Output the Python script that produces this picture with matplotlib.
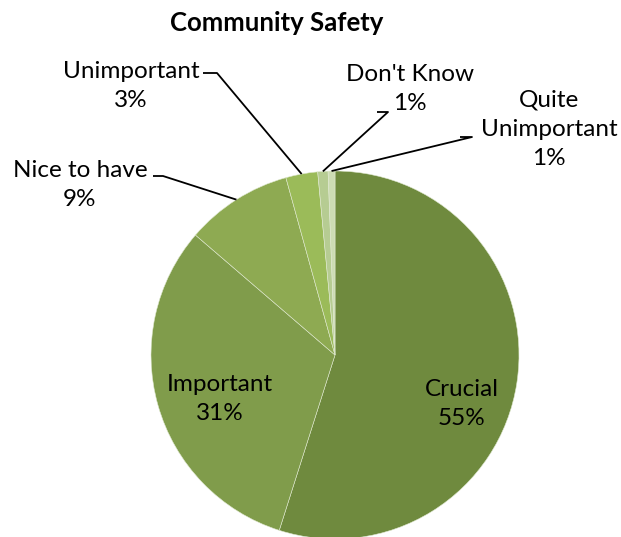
import numpy as np
import matplotlib
matplotlib.use("Agg")
import matplotlib.pyplot as plt

plt.rcParams['font.family'] = ['Lato', 'DejaVu Sans']

# survey shares, in percent
categories = ["Crucial", "Important", "Nice to have", "Unimportant", "Don't Know", "Quite\nUnimportant"]
shares = [54.9, 31.4, 9.4, 2.8, 0.9, 0.6]
colours = ["#6f8a3e", "#809c4b", "#8eaa52", "#9bbb59", "#b6cc92", "#cddcb4"]

W, H = 621, 537
fig = plt.figure(figsize=(W / 100, H / 100), dpi=100)
ax = fig.add_axes([0, 0, 1, 1])

cx, cy, r = 335, H - 355, 184
wedges, _ = ax.pie(shares, colors=colours, startangle=90, counterclock=False,
                   center=(cx, cy), radius=r,
                   wedgeprops=dict(edgecolor="#dfe8cf", linewidth=0.4))
ax.set_xlim(0, W)
ax.set_ylim(0, H)
ax.set_aspect('auto')
ax.axis('off')

fs = 17.5
ls = 1.5

# labels inside the two big slices: (x, y) in pixels from top-left
inside = {0: (462, 404), 1: (220, 399)}
# outside labels: text centre, elbow point, end of the short horizontal run
outside = {
    2: ((80, 185), (163, 176), (153, 176)),
    3: ((131, 86), (217, 73), (203, 73)),
    4: ((410, 89), (388, 112), (377, 112)),
    5: ((549, 129), (472, 137), (460, 137)),
}

for i, w in enumerate(wedges):
    text = f"{categories[i]}\n{shares[i]:.0f}%"
    if i in inside:
        x, y = inside[i]
        ax.text(x, H - y, text, ha='center', va='center', fontsize=fs,
                linespacing=ls)
        continue
    (tx, ty), (ex, ey), (hx, hy) = outside[i]
    mid = np.deg2rad((w.theta1 + w.theta2) / 2)
    px, py = cx + r * np.cos(mid), cy + r * np.sin(mid)
    ax.plot([px, ex, hx], [py, H - ey, H - hy], color='black', lw=1.3,
            solid_capstyle='butt')
    ax.text(tx, H - ty, text, ha='center', va='center', fontsize=fs,
            linespacing=ls)

ax.text(277, H - 23, "Community Safety", ha='center', va='center',
        fontsize=18.5, fontweight='bold')

fig.savefig("out.png", dpi=100)
